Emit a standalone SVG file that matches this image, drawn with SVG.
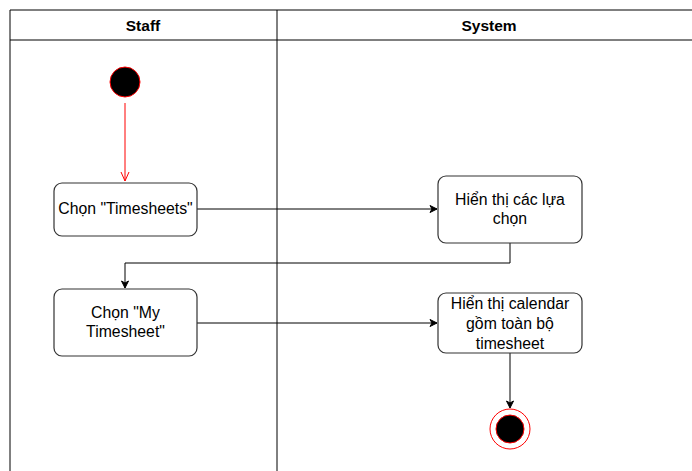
<svg xmlns="http://www.w3.org/2000/svg" width="692" height="471" viewBox="0 0 692 471">
<defs>
<style>
.lane{fill:none;stroke:#000;stroke-width:1}
.hdr{font-family:"Liberation Sans",Arial,sans-serif;font-size:15.5px;font-weight:bold;fill:#000;text-anchor:middle}
.box{fill:#fff;stroke:#333;stroke-width:1.2}
.txt{font-family:"Liberation Sans",Arial,sans-serif;font-size:15.8px;fill:#000;text-anchor:middle}
.edge{fill:none;stroke:#000;stroke-width:1}
</style>
<marker id="arr" markerWidth="10" markerHeight="10" refX="8" refY="5" orient="auto" markerUnits="userSpaceOnUse">
<path d="M1,1.5 L8,5 L1,8.5 L3,5 Z" fill="#000" stroke="#000" stroke-width="1"/>
</marker>
<marker id="open" markerWidth="12" markerHeight="12" refX="6" refY="11" orient="0" markerUnits="userSpaceOnUse">
<path d="M2,2 L6,11 L10,2" fill="none" stroke="#f00" stroke-width="1"/>
</marker>
</defs>
<rect width="692" height="471" fill="#fff"/>
<g id="lanes">
<path class="lane" d="M10,471 V10 H692 M10,40 H692 M277,10 V471"/>
<text class="hdr" x="143" y="31">Staff</text>
<text class="hdr" x="489" y="31">System</text>
</g>
<g id="connectors">
<path d="M125,103 V181" fill="none" stroke="#f00" stroke-width="1" marker-end="url(#open)"/>
<path class="edge" d="M197,209 H437" marker-end="url(#arr)"/>
<path class="edge" d="M510,243 V263 H125 V288" marker-end="url(#arr)"/>
<path class="edge" d="M197,323 H437" marker-end="url(#arr)"/>
<path class="edge" d="M510,353 V408" marker-end="url(#arr)"/>
</g>
<g id="start">
<circle cx="125" cy="82" r="15" fill="#000" stroke="#f00" stroke-width="1"/>
</g>
<g id="chon-timesheets">
<rect class="box" x="54" y="183" width="143" height="53" rx="8"/>
<text class="txt" x="125.5" y="214">Chọn "Timesheets"</text>
</g>
<g id="hien-thi-lua-chon">
<rect class="box" x="438" y="176" width="144" height="67" rx="8"/>
<text class="txt" x="510" y="205">Hiển thị các lựa</text>
<text class="txt" x="510" y="224">chọn</text>
</g>
<g id="chon-my-timesheet">
<rect class="box" x="54" y="289" width="143" height="67" rx="8"/>
<text class="txt" x="125.5" y="318">Chọn "My</text>
<text class="txt" x="125.5" y="337">Timesheet"</text>
</g>
<g id="hien-thi-calendar">
<rect class="box" x="438" y="293" width="144" height="60" rx="8"/>
<text class="txt" x="510" y="309">Hiển thị calendar</text>
<text class="txt" x="510" y="329">gồm toàn bộ</text>
<text class="txt" x="510" y="349">timesheet</text>
</g>
<g id="end">
<circle cx="510" cy="429" r="20" fill="#fff" stroke="#f00" stroke-width="1"/>
<circle cx="510" cy="429" r="14" fill="#000" stroke="#f00" stroke-width="1"/>
</g>
</svg>
